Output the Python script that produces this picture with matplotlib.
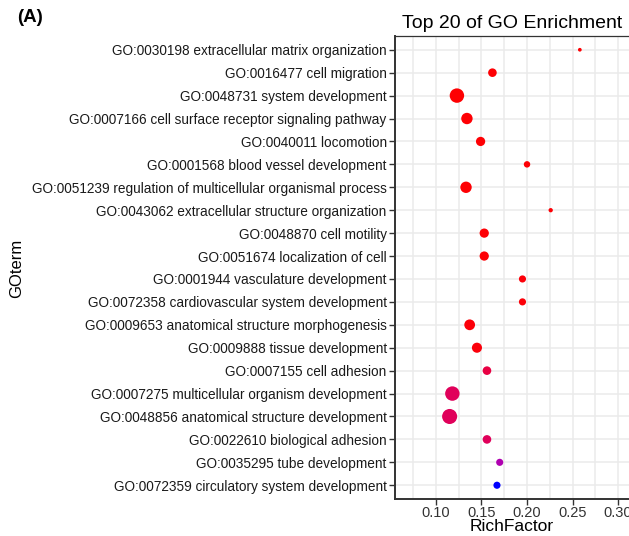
import numpy as np
import matplotlib
matplotlib.use('Agg')
import matplotlib.pyplot as plt
from matplotlib.colors import LinearSegmentedColormap, Normalize
from matplotlib.ticker import MultipleLocator

plt.rcParams['font.family'] = ['Liberation Sans', 'DejaVu Sans']

# GO terms, top row first
goTerms = [
    "GO:0030198 extracellular matrix organization",
    "GO:0016477 cell migration",
    "GO:0048731 system development",
    "GO:0007166 cell surface receptor signaling pathway",
    "GO:0040011 locomotion",
    "GO:0001568 blood vessel development",
    "GO:0051239 regulation of multicellular organismal process",
    "GO:0043062 extracellular structure organization",
    "GO:0048870 cell motility",
    "GO:0051674 localization of cell",
    "GO:0001944 vasculature development",
    "GO:0072358 cardiovascular system development",
    "GO:0009653 anatomical structure morphogenesis",
    "GO:0009888 tissue development",
    "GO:0007155 cell adhesion",
    "GO:0007275 multicellular organism development",
    "GO:0048856 anatomical structure development",
    "GO:0022610 biological adhesion",
    "GO:0035295 tube development",
    "GO:0072359 circulatory system development",
]
richFactor = [0.258, 0.162, 0.123, 0.134, 0.149, 0.200, 0.133, 0.226, 0.153, 0.153,
              0.195, 0.195, 0.137, 0.145, 0.156, 0.118, 0.115, 0.156, 0.170, 0.167]
geneCount = [12, 64, 180, 112, 74, 36, 112, 16, 74, 74,
             44, 44, 100, 88, 64, 180, 196, 64, 44, 44]
pValue = [0.0002, 0.0002, 0.0001, 0.0002, 0.0002, 0.0003, 0.0002, 0.0003, 0.0003, 0.0003,
          0.0004, 0.0004, 0.0004, 0.0005, 0.003, 0.004, 0.004, 0.004, 0.010, 0.020]

xTicks = [0.10, 0.15, 0.20, 0.25, 0.30]

cmap = LinearSegmentedColormap.from_list(
    "gp", [(0.0, "#FF0000"), (0.2, "#E0005A"), (0.5, "#B000B0"), (1.0, "#0000FF")])
norm = Normalize(vmin=0, vmax=0.02)

my_dpi = 100
fig = plt.figure(figsize=(629/my_dpi, 536/my_dpi), dpi=my_dpi)
ax1 = fig.add_axes([395/629, 1-499/536, 1-395/629, (499-36)/536])

n = len(goTerms)
yPos = np.arange(n)[::-1]
sizes = np.array(geneCount) * 0.6
ax1.scatter(richFactor, yPos, s=sizes, c=pValue, cmap=cmap, norm=norm,
            edgecolors='none', zorder=3)

ax1.set_yticks(yPos)
ax1.set_yticklabels(goTerms, fontsize=9.8)
ax1.set_ylim(-0.6, n - 1 + 0.6)
ax1.set_xlim(0.055, 0.312)
ax1.set_xticks(xTicks)
ax1.set_xticklabels(["%.2f" % v for v in xTicks], fontsize=10.5, color='#333333')
ax1.xaxis.set_minor_locator(MultipleLocator(0.025))

ax1.grid(which='both', axis='x', color='#EBEBEB', linewidth=1.1, zorder=0)
ax1.grid(which='major', axis='y', color='#EBEBEB', linewidth=1.1, zorder=0)
ax1.set_axisbelow(True)
ax1.tick_params(axis='both', which='major', length=4, width=1, color='#333333', pad=2)
ax1.tick_params(axis='x', which='major', pad=1)
ax1.tick_params(axis='x', which='minor', length=0)
ax1.tick_params(axis='y', labelcolor='#1a1a1a')

for side in ['left', 'bottom']:
    ax1.spines[side].set_color('#333333')
    ax1.spines[side].set_linewidth(1.4)
ax1.spines['top'].set_color('#333333')
ax1.spines['top'].set_linewidth(0.9)
ax1.spines['right'].set_visible(False)

ax1.set_xlabel("RichFactor", fontsize=12.5, labelpad=-1)
fig.text(17/629, 1-268/536, "GOterm", rotation=90, fontsize=12,
         ha='center', va='center')
ax1.set_title("Top 20 of GO Enrichment", fontsize=14, pad=6)
fig.text(17/629, 1-18/536, "(A)", fontsize=13.5, fontweight='bold',
         ha='left', va='center')

fig.savefig("out.png", dpi=my_dpi)
